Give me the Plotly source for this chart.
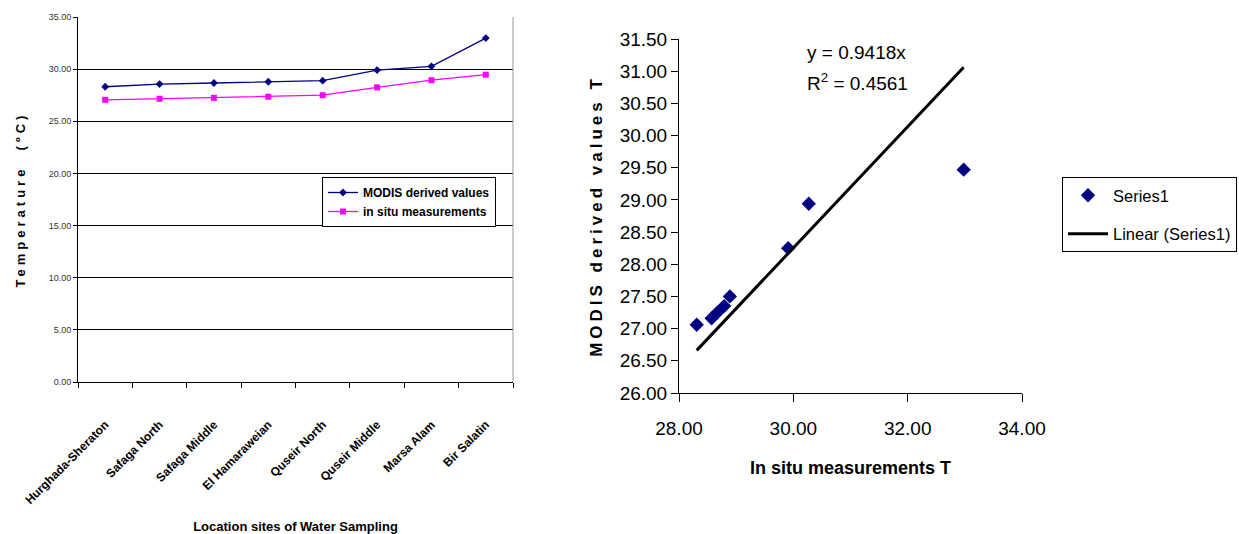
import plotly.graph_objects as go

# ---- data ----
sites = ["Hurghada-Sheraton", "Safaga North", "Safaga Middle", "El Hamaraweian",
         "Quseir North", "Quseir Middle", "Marsa Alam", "Bir Salatin"]
modis_values = [28.31, 28.57, 28.67, 28.79, 28.89, 29.91, 30.27, 32.98]
insitu_values = [27.06, 27.16, 27.25, 27.35, 27.50, 28.25, 28.94, 29.47]
left_yticks = [0, 5, 10, 15, 20, 25, 30, 35]
right_xticks = [28, 30, 32, 34]
right_yticks = [26 + 0.5 * i for i in range(12)]
trend_slope = 0.9418
trend_r2 = 0.4561

W, H = 1239, 534
FONT = "Liberation Sans, Arial, sans-serif"

def px_x(p):
    return p / W

def px_y(p):
    return 1 - p / H

fig = go.Figure()

# ---- left line chart ----
fig.add_trace(go.Scatter(
    x=sites, y=modis_values, mode="lines+markers", name="MODIS derived values",
    line=dict(color="#000080", width=1.3),
    marker=dict(symbol="diamond", size=6, color="#000080"),
    xaxis="x", yaxis="y", legend="legend"))
fig.add_trace(go.Scatter(
    x=sites, y=insitu_values, mode="lines+markers", name="in situ measurements",
    line=dict(color="#FF00FF", width=1.3),
    marker=dict(symbol="square", size=6, color="#FF00FF"),
    xaxis="x", yaxis="y", legend="legend"))

# ---- right scatter chart ----
fig.add_trace(go.Scatter(
    x=modis_values, y=insitu_values, mode="markers", name="Series1",
    marker=dict(symbol="diamond", size=11, color="#000080"),
    xaxis="x2", yaxis="y2", legend="legend2", legendgroup="s1"))
tx = [min(modis_values), max(modis_values)]
fig.add_trace(go.Scatter(
    x=tx, y=[trend_slope * v for v in tx], mode="lines", name="Linear (Series1)",
    line=dict(color="black", width=3),
    xaxis="x2", yaxis="y2", legend="legend2", legendgroup="lin"))

fig.update_layout(
    width=W, height=H,
    margin=dict(l=0, r=0, t=0, b=0, autoexpand=False),
    paper_bgcolor="white", plot_bgcolor="white",
    font=dict(family=FONT, color="black"),
    xaxis=dict(
        domain=[px_x(78), px_x(513)], anchor="y", type="category",
        range=[-0.5, 7.5], tickson="boundaries", ticks="outside", ticklen=5,
        tickcolor="black", showline=True, linecolor="black", linewidth=1,
        showgrid=False, tickangle=-45, ticklabelstandoff=30,
        tickfont=dict(family=FONT, size=12, color="black", weight="bold"),
        title=dict(text="<b>Location sites of Water Sampling</b>",
                   font=dict(family=FONT, size=13), standoff=22)),
    yaxis=dict(
        domain=[px_y(382), px_y(17)], anchor="x", range=[0, 35],
        tickvals=left_yticks, tickformat=".2f", ticks="outside", ticklen=4,
        tickcolor="black", showline=True, linecolor="black", linewidth=1,
        showgrid=True, gridcolor="black", gridwidth=1, zeroline=False,
        tickfont=dict(family=FONT, size=9, color="#333333"),
        title=dict(text='<b><span style="letter-spacing:4px">Temperature  (ºC)</span></b>',
                   font=dict(family=FONT, size=13), standoff=20)),
    xaxis2=dict(
        domain=[px_x(679), px_x(1022)], anchor="y2", range=[28, 34],
        tickvals=right_xticks, tickformat=".2f", ticks="outside", ticklen=8,
        tickcolor="black", showline=True, linecolor="black", linewidth=1,
        showgrid=False, zeroline=False, ticklabelstandoff=10,
        tickfont=dict(family=FONT, size=19, color="black"),
        title=dict(text="<b>In situ measurements T</b>",
                   font=dict(family=FONT, size=18), standoff=23)),
    yaxis2=dict(
        domain=[px_y(393), px_y(39)], anchor="x2", range=[26, 31.5],
        tickvals=right_yticks, tickformat=".2f", ticks="outside", ticklen=7,
        tickcolor="black", showline=True, linecolor="black", linewidth=1,
        showgrid=False, zeroline=False,
        tickfont=dict(family=FONT, size=19, color="black"),
        title=dict(text='<b><span style="letter-spacing:4px">MODIS derived values T</span></b>',
                   font=dict(family=FONT, size=17), standoff=12)),
    legend=dict(
        x=px_x(322), y=px_y(177), xanchor="left", yanchor="top",
        bordercolor="black", borderwidth=1, bgcolor="white",
        font=dict(family=FONT, size=12, weight="bold"), tracegroupgap=0,
        itemwidth=30),
    legend2=dict(
        x=px_x(1062), y=px_y(177), xanchor="left", yanchor="top",
        bordercolor="black", borderwidth=1, bgcolor="white",
        font=dict(family=FONT, size=16.5), itemwidth=40, tracegroupgap=14),
    shapes=[dict(type="line", xref="x domain", yref="y domain",
                 x0=1, x1=1, y0=0, y1=1, line=dict(color="#999999", width=1))],
    annotations=[
        dict(text=f"y = {trend_slope}x",
             xref="paper", yref="paper", x=px_x(805), y=px_y(52),
             xanchor="left", yanchor="middle", showarrow=False,
             font=dict(family=FONT, size=19, color="black")),
        dict(text=f"R<sup>2</sup> = {trend_r2}",
             xref="paper", yref="paper", x=px_x(805), y=px_y(82),
             xanchor="left", yanchor="middle", showarrow=False,
             font=dict(family=FONT, size=19, color="black")),
    ],
)

fig.write_html("out.html")
